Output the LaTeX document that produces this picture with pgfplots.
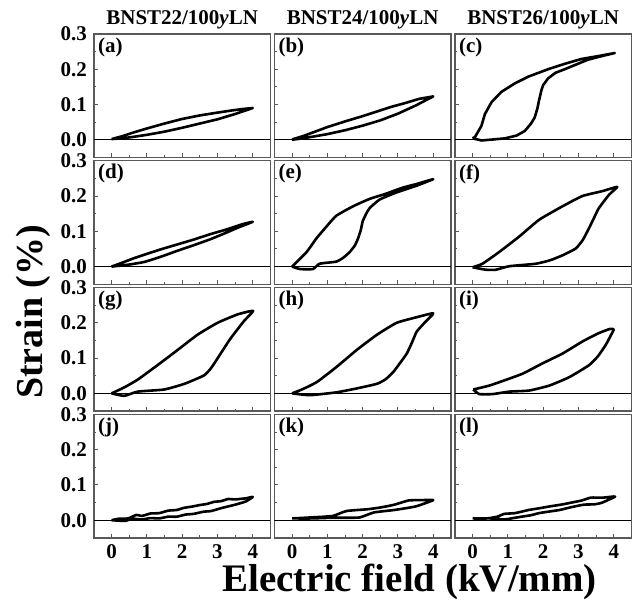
\documentclass[border=0pt]{standalone}
\usepackage{fontspec}
\setmainfont{Liberation Serif}
\usepackage{pgfplots}
\pgfplotsset{compat=1.18}
\usepgfplotslibrary{groupplots}
\usetikzlibrary{calc}
\newcommand{\tfont}{\bfseries\fontsize{10.5}{12}\selectfont}
\begin{document}
\begin{tikzpicture}
\pgfplotsset{
  loop/.style={black, line width=1.3pt, line join=round},
  sloop/.style={black, line width=1.3pt, line join=round, smooth, tension=0.3},
  zero/.style={black, line width=0.45pt, forget plot},
}
\begin{groupplot}[
  group style={group size=3 by 4, horizontal sep=2pt, vertical sep=1.7pt,
    xticklabels at=edge bottom, yticklabels at=edge left},
  scale only axis, width=88.3pt, height=61.75pt,
  xmin=-0.5, xmax=4.5, ymin=-0.05, ymax=0.3,
  xtick={0,1,2,3,4}, ytick={0,0.1,0.2,0.3},
  minor x tick num=1, minor y tick num=1,
  tick pos=left, tick align=inside,
  major tick length=2pt, minor tick length=1.2pt,
  axis line style={draw=black!65, line width=0.7pt},
  tick style={black!65, line width=0.5pt},
  yticklabel style={/pgf/number format/.cd, fixed, fixed zerofill, precision=1},
  /pgf/number format/assume math mode=true,
  tick label style={font=\tfont},
]
% (a)
\nextgroupplot
\coordinate (TL) at (rel axis cs:0,1);
\coordinate (T1) at (rel axis cs:0.5,1);
\addplot[zero] coordinates {(-0.5,0) (4.5,0)};
\addplot[loop] coordinates {(0,0.002)(0.3,0.004)(0.6,0.008)(1,0.014)(1.5,0.023)(2,0.034)(2.5,0.046)(3,0.058)(3.5,0.073)(4,0.09)
 (3.7,0.087)(3.4,0.083)(3,0.077)(2.5,0.069)(2,0.059)(1.5,0.046)(1,0.032)(0.6,0.02)(0.3,0.01)(0,0.002)};
\node[anchor=north west, font=\tfont, inner sep=1pt] at (rel axis cs:0.01,0.99) {(a)};
% (b)
\nextgroupplot
\coordinate (T2) at (rel axis cs:0.5,1);
\addplot[zero] coordinates {(-0.5,0) (4.5,0)};
\addplot[loop] coordinates {(0,0)(0.3,0.004)(0.6,0.009)(1,0.016)(1.5,0.027)(2,0.04)(2.5,0.055)(3,0.074)(3.5,0.097)(4,0.123)
 (3.6,0.116)(3.2,0.104)(2.8,0.093)(2.4,0.08)(2,0.067)(1.5,0.052)(1,0.036)(0.6,0.021)(0.3,0.01)(0,0.001)};
\node[anchor=north west, font=\tfont, inner sep=1pt] at (rel axis cs:0.01,0.99) {(b)};
% (c)
\nextgroupplot
\coordinate (T3) at (rel axis cs:0.5,1);
\addplot[zero] coordinates {(-0.5,0) (4.5,0)};
\addplot[loop] coordinates {(0,0.004)(0.25,-0.002)(0.6,0.001)(0.92,0.004)(1.25,0.012)(1.48,0.025)(1.65,0.045)(1.76,0.063)(1.84,0.09)(1.88,0.11)(1.95,0.14)(2.0,0.155)(2.14,0.174)(2.35,0.19)(2.61,0.2)(2.95,0.214)(3.27,0.227)(3.65,0.237)(4.03,0.246)
 (3.6,0.238)(3.08,0.229)(2.6,0.215)(2.14,0.2)(1.58,0.179)(1.2,0.16)(0.82,0.136)(0.54,0.107)(0.35,0.073)(0.25,0.039)(0.07,0.008)(0,0.004)};
\node[anchor=north west, font=\tfont, inner sep=1pt] at (rel axis cs:0.01,0.99) {(c)};
% (d)
\nextgroupplot
\addplot[zero] coordinates {(-0.5,0) (4.5,0)};
\addplot[sloop] coordinates {(0,0)(0.45,0.005)(0.92,0.013)(1.4,0.028)(1.87,0.045)(2.34,0.061)(2.81,0.078)(3.2,0.094)(3.57,0.11)(4,0.127)
 (3.7,0.12)(3.28,0.106)(2.8,0.092)(2.34,0.077)(1.87,0.063)(1.4,0.049)(1.0,0.036)(0.64,0.024)(0.3,0.011)(0,0)};
\node[anchor=north west, font=\tfont, inner sep=1pt] at (rel axis cs:0.01,0.99) {(d)};
% (e)
\nextgroupplot
\addplot[zero] coordinates {(-0.5,0) (4.5,0)};
\addplot[sloop] coordinates {(0,0)(0.22,-0.007)(0.59,-0.007)(0.78,0.008)(1.25,0.014)(1.45,0.025)(1.63,0.041)(1.78,0.06)(1.87,0.08)(1.95,0.105)(2.0,0.128)(2.1,0.15)(2.2,0.166)(2.48,0.19)(2.95,0.21)(3.52,0.229)(4,0.248)
 (3.52,0.234)(3.14,0.224)(2.67,0.207)(2.2,0.192)(1.73,0.171)(1.25,0.144)(0.97,0.113)(0.69,0.08)(0.41,0.041)(0,0)};
\node[anchor=north west, font=\tfont, inner sep=1pt] at (rel axis cs:0.01,0.99) {(e)};
% (f)
\nextgroupplot
\addplot[zero] coordinates {(-0.5,0) (4.5,0)};
\addplot[sloop] coordinates {(0,-0.002)(0.38,-0.009)(0.66,-0.009)(1.04,0.001)(1.79,0.008)(2.2,0.018)(2.55,0.032)(2.92,0.051)(3.12,0.075)(3.3,0.109)(3.45,0.14)(3.58,0.166)(3.87,0.204)(4.1,0.226)
 (3.68,0.214)(3.11,0.2)(2.55,0.171)(1.89,0.133)(1.32,0.085)(0.75,0.041)(0.28,0.008)(0,-0.002)};
\node[anchor=north west, font=\tfont, inner sep=1pt] at (rel axis cs:0.01,0.99) {(f)};
% (g)
\nextgroupplot
\addplot[zero] coordinates {(-0.5,0) (4.5,0)};
\addplot[sloop] coordinates {(0,0)(0.36,-0.007)(0.74,0.005)(1.49,0.011)(2.06,0.027)(2.62,0.051)(2.82,0.072)(3.0,0.099)(3.2,0.13)(3.38,0.157)(3.75,0.205)(4.01,0.234)
 (3.57,0.224)(3.0,0.2)(2.43,0.166)(1.87,0.123)(1.3,0.08)(0.74,0.039)(0.36,0.017)(0,0)};
\node[anchor=north west, font=\tfont, inner sep=1pt] at (rel axis cs:0.01,0.99) {(g)};
% (h)
\nextgroupplot
\addplot[zero] coordinates {(-0.5,0) (4.5,0)};
\addplot[sloop] coordinates {(0,0)(0.51,-0.005)(1.26,0.003)(1.83,0.014)(2.4,0.027)(2.65,0.04)(2.87,0.061)(3.05,0.085)(3.25,0.113)(3.4,0.145)(3.53,0.175)(3.75,0.2)(4,0.227)
 (3.53,0.216)(2.96,0.2)(2.4,0.166)(1.83,0.123)(1.26,0.075)(0.7,0.032)(0.3,0.012)(0,0)};
\node[anchor=north west, font=\tfont, inner sep=1pt] at (rel axis cs:0.01,0.99) {(h)};
% (i)
\nextgroupplot
\addplot[zero] coordinates {(-0.5,0) (4.5,0)};
\addplot[sloop] coordinates {(0.02,0.011)(0.19,-0.002)(0.57,-0.002)(1.04,0.005)(1.6,0.008)(2.17,0.022)(2.74,0.046)(3.3,0.08)(3.55,0.105)(3.77,0.137)(3.92,0.165)(4,0.181)
 (3.9,0.183)(3.58,0.171)(3.11,0.147)(2.55,0.113)(1.98,0.085)(1.42,0.056)(0.85,0.035)(0.47,0.022)(0.02,0.011)};
\node[anchor=north west, font=\tfont, inner sep=1pt] at (rel axis cs:0.01,0.99) {(i)};
% (j)
\nextgroupplot
\addplot[zero] coordinates {(-0.5,0) (4.5,0)};
\addplot[sloop] coordinates {(0,0)(0.37,-0.002)(0.6,0.004)(0.86,0.002)(1.1,0.006)(1.35,0.005)(1.6,0.01)(1.85,0.01)(2.1,0.016)(2.33,0.018)(2.6,0.024)(2.82,0.026)(3.1,0.034)(3.5,0.044)(3.8,0.053)(4,0.066)
 (3.8,0.062)(3.5,0.059)(3.3,0.06)(3.1,0.054)(2.9,0.052)(2.7,0.046)(2.5,0.043)(2.3,0.039)(2.05,0.035)(1.85,0.029)(1.6,0.027)(1.35,0.02)(1.1,0.019)(0.86,0.012)(0.7,0.015)(0.47,0.005)(0.2,0.004)(0,0)};
\node[anchor=north west, font=\tfont, inner sep=1pt] at (rel axis cs:0.01,0.99) {(j)};
% (k)
\nextgroupplot
\addplot[zero] coordinates {(-0.5,0) (4.5,0)};
\addplot[sloop] coordinates {(0,0.005)(0.56,0.005)(1.15,0.007)(1.6,0.007)(1.93,0.008)(2.32,0.022)(2.9,0.029)(3.5,0.039)(4,0.057)
 (3.7,0.057)(3.3,0.056)(2.9,0.044)(2.5,0.036)(2.13,0.031)(1.54,0.026)(1.15,0.012)(0.56,0.008)(0,0.005)};
\node[anchor=north west, font=\tfont, inner sep=1pt] at (rel axis cs:0.01,0.99) {(k)};
% (l)
\nextgroupplot
\addplot[zero] coordinates {(-0.5,0) (4.5,0)};
\addplot[sloop] coordinates {(0,0.005)(0.5,0.005)(0.9,0.002)(1.15,0.006)(1.39,0.01)(1.65,0.014)(1.88,0.02)(2.2,0.025)(2.47,0.029)(2.8,0.037)(3.15,0.044)(3.45,0.045)(3.65,0.049)(4.04,0.067)
 (3.7,0.064)(3.35,0.064)(3.1,0.056)(2.86,0.051)(2.5,0.044)(2.18,0.039)(1.9,0.034)(1.59,0.029)(1.2,0.02)(0.9,0.018)(0.7,0.01)(0.41,0.005)(0,0.005)};
\node[anchor=north west, font=\tfont, inner sep=1pt] at (rel axis cs:0.01,0.99) {(l)};
\coordinate (BR) at (rel axis cs:1,0);
\end{groupplot}
\node[anchor=base, font=\tfont, yshift=4.5pt] at (T1) {BNST22/100\textit{y}LN};
\node[anchor=base, font=\tfont, yshift=4.5pt] at (T2) {BNST24/100\textit{y}LN};
\node[anchor=base, font=\tfont, yshift=4.5pt] at (T3) {BNST26/100\textit{y}LN};
\node[anchor=base, font=\bfseries\fontsize{19.5}{22}\selectfont] at ($(BR)+(-111pt,-27pt)$) {Electric field (kV/mm)};
\node[rotate=90, font=\bfseries\fontsize{19}{22}\selectfont] at ($(TL)+(-30.5pt,-139pt)$) {Strain (\%)};
\pgfresetboundingbox
\path ($(TL)+(-47pt,17pt)$) rectangle ($(BR)+(0.3pt,-31pt)$);
\end{tikzpicture}
\end{document}
